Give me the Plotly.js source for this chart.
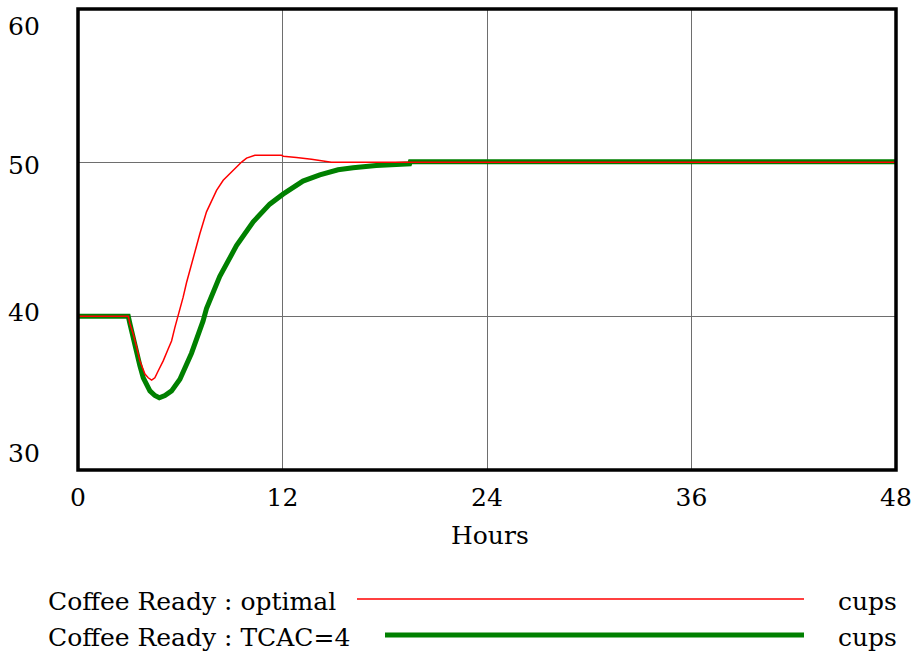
<!DOCTYPE html>
<html>
<head>
<meta charset="utf-8">
<script src="https://cdn.plot.ly/plotly-3.0.1.min.js"></script>
<style>html,body{margin:0;padding:0;background:#fff;}#chart{width:918px;height:654px;}</style>
</head>
<body>
<div id="chart"></div>
<script>
// Data
var optimalHours = [0, 2.95, 3.05, 3.24, 3.44, 3.63, 3.93, 4.12, 4.32, 4.51, 4.71, 5.0, 5.29, 5.49, 5.69, 5.88, 6.17, 6.37, 6.76, 7.15, 7.54, 7.84, 8.13, 8.52, 8.91, 9.2, 9.6, 9.89, 10.38, 11.94, 12.05, 12.82, 13.7, 14.87, 48];
var optimalCups  = [40, 40, 39.5, 38.85, 38.0, 37.1, 36.24, 36.0, 35.85, 36.0, 36.46, 37.1, 37.87, 38.4, 39.3, 40.05, 41.25, 42.2, 43.85, 45.37, 46.8, 47.54, 48.2, 48.85, 49.3, 49.6, 50.04, 50.3, 50.48, 50.48, 50.42, 50.33, 50.22, 50.02, 50.02];

var tcacHours = [0, 2.95, 3.05, 3.34, 3.63, 3.83, 4.22, 4.51, 4.77, 5.1, 5.49, 5.98, 6.66, 7.34, 7.54, 8.32, 9.3, 10.28, 11.25, 12.03, 13.2, 14.19, 15.26, 16.14, 17.5, 19.46, 19.5, 48];
var tcacCups  = [40, 40, 39.5, 38.0, 36.8, 36.0, 35.15, 34.85, 34.7, 34.85, 35.15, 35.9, 37.6, 39.7, 40.5, 42.6, 44.6, 46.15, 47.3, 47.95, 48.8, 49.2, 49.54, 49.67, 49.82, 49.93, 50.06, 50.06];

var xTicks = [0, 12, 24, 36, 48];
var yTickLabels = ["60", "50", "40", "30"];
var seriesNames = ["Coffee Ready : optimal", "Coffee Ready : TCAC=4"];
var unitLabel = "cups";
var xTitle = "Hours";

var FONT = 'DejaVu Serif';
var FS = 25;

var traces = [
  {x: tcacHours, y: tcacCups, type: 'scatter', mode: 'lines', line: {color: '#008000', width: 5}, hoverinfo: 'skip', showlegend: false},
  {x: optimalHours, y: optimalCups, type: 'scatter', mode: 'lines', line: {color: '#ff0000', width: 1.5}, hoverinfo: 'skip', showlegend: false}
];

function px(x){ return (x - 78) / 818; }
function py(y){ return (470 - y) / 461; }

var yLabelPix = [27, 166, 312, 453];
var annotations = [];
yTickLabels.forEach(function(t, i){
  annotations.push({xref: 'paper', yref: 'paper', x: px(42), y: py(yLabelPix[i]), xanchor: 'right', yanchor: 'middle',
    text: t, showarrow: false, font: {family: FONT, size: FS, color: '#000'}});
});
annotations.push({xref: 'paper', yref: 'paper', x: px(490), y: py(535), xanchor: 'center', yanchor: 'middle',
  text: xTitle, showarrow: false, font: {family: FONT, size: FS, color: '#000'}});
var legY = [601, 637];
seriesNames.forEach(function(n, i){
  annotations.push({xref: 'paper', yref: 'paper', x: px(46), y: py(legY[i]), xanchor: 'left', yanchor: 'middle',
    text: n, showarrow: false, font: {family: FONT, size: FS, color: '#000'}});
  annotations.push({xref: 'paper', yref: 'paper', x: px(899), y: py(legY[i]), xanchor: 'right', yanchor: 'middle',
    text: unitLabel, showarrow: false, font: {family: FONT, size: FS, color: '#000'}});
});

var shapes = [
  {type: 'rect', xref: 'paper', yref: 'paper', x0: 0, x1: 1, y0: 0, y1: 1, line: {color: '#000', width: 3.5}, layer: 'above'},
  {type: 'line', xref: 'paper', yref: 'paper', x0: px(357), x1: px(804), y0: py(599), y1: py(599), line: {color: '#ff0000', width: 1.5}},
  {type: 'line', xref: 'paper', yref: 'paper', x0: px(385), x1: px(804), y0: py(635), y1: py(635), line: {color: '#008000', width: 5}}
];

var layout = {
  width: 918, height: 654,
  margin: {l: 78, r: 22, t: 9, b: 184, pad: 0},
  paper_bgcolor: '#fff', plot_bgcolor: '#fff',
  showlegend: false,
  font: {family: FONT, size: FS, color: '#000'},
  xaxis: {range: [0, 48], tickvals: xTicks, ticktext: xTicks.map(String), showgrid: true, gridcolor: '#6e6e6e', gridwidth: 1,
    zeroline: false, showline: false, ticks: '', ticklabelstandoff: 10, tickfont: {family: FONT, size: FS, color: '#000'}, fixedrange: true},
  yaxis: {range: [30, 60], tickvals: [40, 50], showticklabels: false, showgrid: true, gridcolor: '#6e6e6e', gridwidth: 1,
    zeroline: false, showline: false, ticks: '', fixedrange: true},
  annotations: annotations,
  shapes: shapes
};

Plotly.newPlot('chart', traces, layout, {staticPlot: true, displayModeBar: false});
</script>
</body>
</html>
